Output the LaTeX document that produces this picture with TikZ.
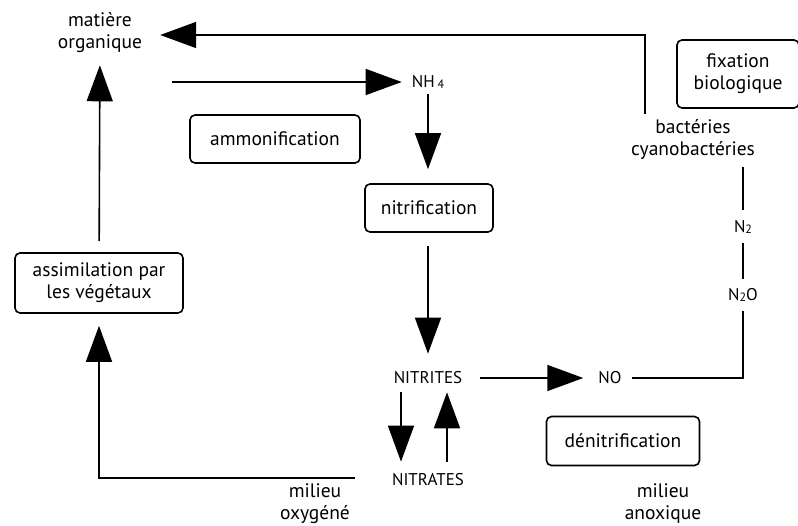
\documentclass[tikz,border=0pt]{standalone}
\usepackage{fontspec}
\setmainfont{PT Sans}
\usetikzlibrary{positioning,arrows.meta,calc}
\tikzset{
  cycbox/.style={draw, line width=1.6pt, rounded corners=5pt, align=center,
    inner sep=0pt, fill=white},
  cyclabel/.style={align=center, inner sep=0pt},
  capslabel/.style={cyclabel, font=\fontsize{17}{21}\selectfont},
  cycarrow/.style={-{Triangle[length=36pt, width=26pt]}, line width=1.6pt},
  cycline/.style={line width=1.6pt},
}
\newcommand{\chem}[1]{{\fontsize{12}{12}\selectfont\raisebox{-1pt}{#1}}}

\begin{document}
\begin{tikzpicture}[x=1pt, y=-1pt,
    font=\fontsize{19.5}{22}\selectfont]
  \useasboundingbox (0,0) rectangle (798,526);
  % substances
  \node[cyclabel] (matiere) at (100,33) {matière\\organique};
  \node[capslabel] (nh) at (428,82) {NH\,\chem{4}};
  \node[capslabel] (nitrites) at (428,378) {NITRITES};
  \node[capslabel] (nitrates) at (428,480) {NITRATES};
  \node[capslabel] (no) at (610,378) {NO};
  \node[capslabel] (n2o) at (743,295) {N\chem{2}O};
  \node[capslabel] (n2) at (743,227) {N\chem{2}};
  \node[cyclabel] (bact) at (693,139) {bactéries\\cyanobactéries};
  % processes
  \node[cycbox, minimum width=170pt, minimum height=48pt] (ammon) at (275,139) {ammonification};
  \node[cycbox, minimum width=128pt, minimum height=48pt] (nitrif) at (429,208) {nitrification};
  \node[cycbox, minimum width=153pt, minimum height=49pt] (denitrif) at (623,441) {dénitrification};
  \node[cycbox, minimum width=122pt, minimum height=68pt] (fix) at (738,74) {fixation\\biologique};
  \node[cycbox, minimum width=168pt, minimum height=60pt] (assim) at (99,283) {assimilation par\\les végétaux};
  % milieux
  \node[cyclabel] (oxy) at (315,504) {milieu\\oxygéné};
  \node[cyclabel] (anox) at (663,504) {milieu\\anoxique};
  % cycle
  \draw[cycarrow, shorten >=18pt] ([xshift=-48pt, yshift=5pt]bact.north) |- ([yshift=-2pt]matiere.east);
  \draw[cycarrow, shorten >=10pt] ([xshift=30pt]matiere.east |- nh.west) -- (nh.west);
  \draw[cycarrow, shorten <=5pt, shorten >=14pt] (nh) -- (nh |- nitrif.north);
  \draw[cycarrow, shorten <=13pt, shorten >=18pt] (nh |- nitrif.south) -- (nitrites);
  \draw[cycarrow, shorten <=18pt, shorten >=15pt] (nitrites) -- (no);
  \draw[cycarrow, shorten <=8pt, shorten >=12pt] ([xshift=-27pt]nitrites.south) -- ([xshift=-27pt]nitrates.north);
  \draw[cycarrow, shorten <=12pt, shorten >=8pt] ([xshift=19pt]nitrates.north) -- ([xshift=19pt]nitrites.south);
  \draw[cycline, shorten <=10pt, shorten >=9pt] (no.east) -| (n2o.south);
  \draw[cycline, shorten <=9pt, shorten >=9pt] (n2o) -- (n2);
  \draw[cycline, shorten <=10pt, shorten >=8pt] (n2) -- (n2 |- bact.south);
  \draw[cycarrow, shorten <=37pt, shorten >=12pt] ([yshift=2pt]nitrates.west) -| (assim.south);
  \draw[cycarrow, shorten <=11pt, shorten >=12pt] (assim) -- (matiere);
\end{tikzpicture}
\end{document}
